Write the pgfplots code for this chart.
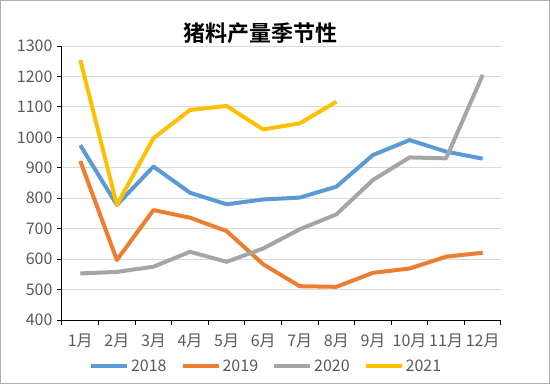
\documentclass[border=0pt]{standalone}
\usepackage{pgfplots}
\pgfplotsset{compat=1.18}
\usepackage{fontspec}
\setmainfont{Noto Sans CJK SC}[BoldFont={Noto Sans CJK SC Bold}]
\definecolor{c18}{HTML}{5B9BD5}
\definecolor{c19}{HTML}{ED7D31}
\definecolor{c20}{HTML}{A5A5A5}
\definecolor{c21}{HTML}{FFC000}
\definecolor{txt}{HTML}{595959}
\definecolor{grd}{HTML}{D9D9D9}
\begin{document}
\begin{tikzpicture}[x=1pt,y=1pt]
\useasboundingbox (-62,-64) rectangle (488,320);
\draw[color=grd!80!black, line width=1pt] (-61.5,-63.5) rectangle (487.5,319.5);
\begin{axis}[
  at={(0,0)}, anchor=south west,
  scale only axis, width=439pt, height=274pt,
  xmin=0.5, xmax=12.5, ymin=400, ymax=1300,
  xtick={1,...,12},
  xticklabels={1月,2月,3月,4月,5月,6月,7月,8月,9月,10月,11月,12月},
  major x tick style={draw=none},
  minor xtick={0.5,1.5,...,12.5},
  ytick={400,500,...,1300},
  axis lines*=left,
  tick align=outside,
  ymajorgrids, grid style={grd, line width=1pt},
  axis line style={black, line width=1pt},
  tick style={black, line width=1pt},
  major tick length=5pt, minor tick length=5pt,
  /pgf/number format/assume math mode=true,
  /pgf/number format/1000 sep={},
  tick label style={color=txt, font=\fontsize{16}{16}\selectfont},
  yticklabel style={xshift=-1pt},
  xticklabel style={yshift=-5pt},
  legend style={at={(rel axis cs:0.465,-0.168)}, anchor=center, draw=none, fill=none,
    font=\fontsize{16}{16}\selectfont, text=txt,
    /tikz/every even column/.append style={column sep=12pt}},
  legend columns=4,
  legend image code/.code={\draw[#1, line width=4pt] (0pt,0pt) -- (36pt,0pt);},
  every axis plot/.append style={line width=4pt, line join=round, no markers},
  clip=false,
]
\addplot[c18] coordinates {(1,974)(2,778)(3,904)(4,818)(5,780)(6,796)(7,802)(8,838)(9,942)(10,991)(11,953)(12,930)};
\addlegendentry{2018}
\addplot[c19] coordinates {(1,922)(2,597)(3,761)(4,736)(5,692)(6,583)(7,511)(8,509)(9,555)(10,569)(11,608)(12,621)};
\addlegendentry{2019}
\addplot[c20] coordinates {(1,553)(2,558)(3,575)(4,624)(5,591)(6,635)(7,698)(8,747)(9,860)(10,934)(11,931)(12,1205)};
\addlegendentry{2020}
\addplot[c21] coordinates {(1,1254)(2,778)(3,997)(4,1090)(5,1103)(6,1026)(7,1046)(8,1117)};
\addlegendentry{2021}
\node[font=\fontsize{22}{22}\selectfont\bfseries, black] at (rel axis cs:0.453,1.047) {猪料产量季节性};
\end{axis}
\end{tikzpicture}
\end{document}
